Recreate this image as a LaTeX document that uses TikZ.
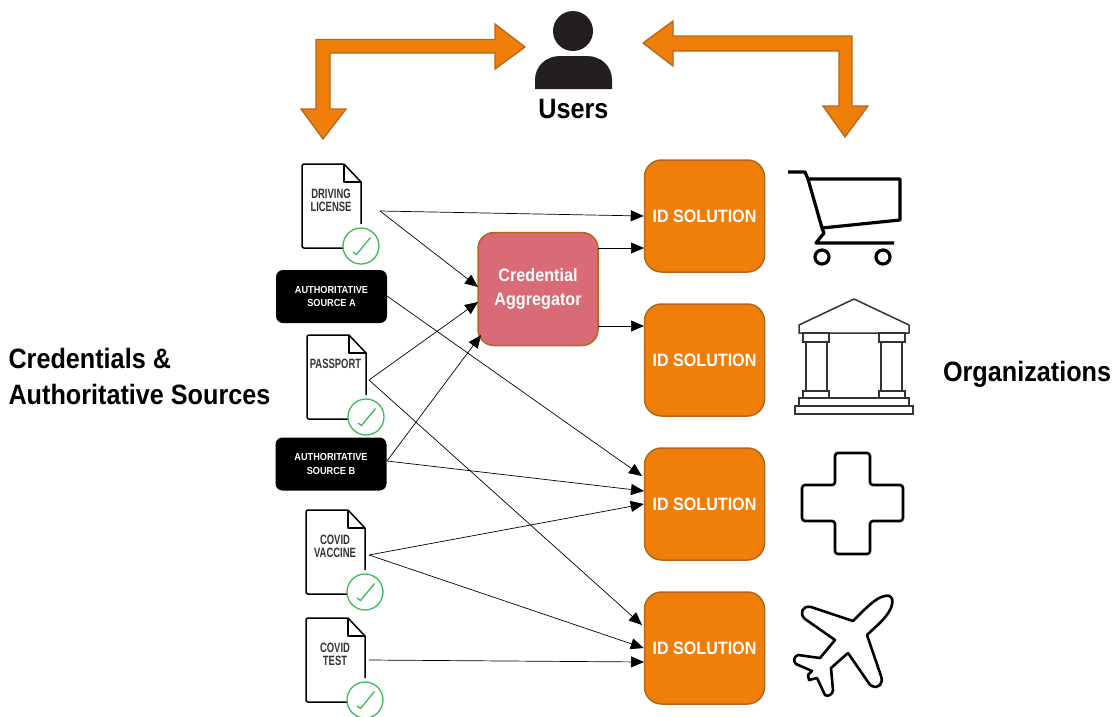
\documentclass[tikz,border=0pt]{standalone}
\usepackage{fontspec}
\setmainfont{Liberation Sans}[FakeStretch=0.9]
\newfontfamily\narrowfont{Liberation Sans}[FakeStretch=0.7]
\usetikzlibrary{arrows.meta}

\definecolor{idorange}{HTML}{F07F09}
\definecolor{idedge}{HTML}{B8651B}
\definecolor{aggfill}{HTML}{D96B77}
\definecolor{checkgreen}{HTML}{3DB85C}
\definecolor{darkuser}{HTML}{231F20}

\tikzset{
    idbox/.style={draw=idedge, fill=idorange, line width=1.5pt, rounded corners=17pt, minimum width=120pt, minimum height=112pt, text=white, font=\fontsize{17.9}{20}\selectfont\bfseries},
    aggbox/.style={draw=idedge, fill=aggfill, line width=1.5pt, rounded corners=16pt, minimum width=120pt, minimum height=113pt, text=white, align=center, font=\fontsize{18}{24}\selectfont\bfseries},
    srcbox/.style={fill=black, rounded corners=7pt, minimum width=111pt, minimum height=53pt, text=white, align=center, font=\fontsize{10.2}{13.5}\selectfont\bfseries},
    doclabel/.style={text=black!80, align=center, font=\narrowfont\fontsize{13.5}{13}\selectfont\bfseries},
    biglabel/.style={align=left, font=\fontsize{28}{36}\selectfont\bfseries},
    flow/.style={-{Triangle[length=13pt,width=11pt]}, line width=0.7pt},
    bigarrow/.style={draw=idedge, fill=idorange, line width=1.3pt},
    icon/.style={line width=3.2pt, line join=round},
    temple/.style={draw=black!80, line width=1.5pt},
    docsheet/.pic={
        \draw[line width=1.5pt, rounded corners=2pt, line join=round] (42,0) -- (0,0) -- (0,84) -- (42,84);
        \draw[line width=1.5pt, line join=round] (42,0) -- (59,18) -- (59,60);
        \draw[line width=1.5pt, line join=round] (42,0) -- (42,18) -- (59,18);
        \draw[draw=checkgreen, fill=white, line width=1.3pt] (59,82) circle (18);
        \draw[checkgreen, line width=1.3pt] (51,88) -- (54.5,90.5) -- (68.5,73.5);
    }
}

\begin{document}
\begin{tikzpicture}[x=1pt,y=-1pt]
    \useasboundingbox (0,0) rectangle (1112,716);

    % users
    \fill[darkuser] (573,31) circle (20);
    \fill[darkuser] (535,89) -- (535,80) .. controls (535,66) and (546,56) .. (560,56) -- (587,56) .. controls (601,56) and (612,66) .. (612,80) -- (612,89) -- cycle;
    \node[font=\fontsize{28}{30}\selectfont\bfseries] (users) at (573.5,108.5) {Users};

    \draw[bigarrow] (525,47) -- (495,24) -- (495,39.5) -- (316,39.5) -- (316,109) -- (301,109) -- (323,139) -- (346,109) -- (330,109) -- (330,53) -- (495,53) -- (495,69) -- cycle;
    \draw[bigarrow] (643,43) -- (673,21) -- (673,36) -- (852,36) -- (852,106) -- (868,106) -- (845,137) -- (823,106) -- (839,106) -- (839,51) -- (673,51) -- (673,66) -- cycle;

    % credentials
    \pic at (302,164) {docsheet};
    \pic at (307,335) {docsheet};
    \pic at (306,510) {docsheet};
    \pic at (306,618) {docsheet};
    \node[doclabel] (license) at (331,200) {DRIVING\\LICENSE};
    \node[doclabel] (passport) at (335.5,364) {PASSPORT};
    \node[doclabel] (vaccine) at (335,546) {COVID\\VACCINE};
    \node[doclabel] (covidtest) at (335,654.5) {COVID\\TEST};
    \node[srcbox] (srca) at (331.5,296.5) {AUTHORITATIVE\\SOURCE A};
    \node[srcbox] (srcb) at (331,464) {AUTHORITATIVE\\SOURCE B};

    \node[aggbox] (agg) at (538,289) {Credential\\Aggregator};
    \node[idbox] (idone) at (704.5,216) {ID SOLUTION};
    \node[idbox] (idtwo) at (704.5,360) {ID SOLUTION};
    \node[idbox] (idthree) at (704.5,504) {ID SOLUTION};
    \node[idbox] (idfour) at (704.5,648) {ID SOLUTION};

    \node[biglabel, anchor=west] (credlabel) at (5,376.5) {Credentials \&\\Authoritative Sources};
    \node[biglabel, anchor=west] (orglabel) at (939.5,374) {Organizations};

    % free ends
    \coordinate (licenseout) at (380,211);
    \coordinate (passportout) at (369,380);
    \coordinate (vaccineout) at (369,555);
    \coordinate (testout) at (369,660);
    \coordinate (srcaout) at (387,296);
    \coordinate (srcbout) at (387,461);
    \coordinate (agglicense) at (478,287);
    \coordinate (aggpassport) at (478,302);
    \coordinate (aggsrcb) at (481,335);
    \coordinate (aggout) at (598,248);
    \coordinate (aggouttwo) at (598,326);
    \coordinate (idoneagg) at (644,248);
    \coordinate (idtwoagg) at (644,326);
    \coordinate (idthreesrca) at (642,476);
    \coordinate (idthreesrcb) at (644,491);
    \coordinate (idfourpass) at (642,625);
    \coordinate (idfourtest) at (644,662);

    \draw[flow] (licenseout) -- (idone.west);
    \draw[flow] (licenseout) -- (agglicense);
    \draw[flow] (aggout) -- (idoneagg);
    \draw[flow] (aggouttwo) -- (idtwoagg);
    \draw[flow] (srcaout) -- (idthreesrca);
    \draw[flow] (passportout) -- (aggpassport);
    \draw[flow] (passportout) -- (idfourpass);
    \draw[flow] (srcbout) -- (aggsrcb);
    \draw[flow] (srcbout) -- (idthreesrcb);
    \draw[flow] (vaccineout) -- (idthree.west);
    \draw[flow] (vaccineout) -- (idfour.west);
    \draw[flow] (testout) -- (idfourtest);

    % cart
    \draw[icon] (788,172) -- (805,172) -- (808,179) -- (900,179) -- (900,220) -- (822,228) -- (808,179);
    \draw[icon] (822,228) -- (824,233) -- (816,243) -- (894,243);
    \draw[icon] (822,257) circle (7);
    \draw[icon] (883,257) circle (7);

    % bank
    \draw[temple, line join=round] (799,333) -- (799,325) -- (854,299) -- (909,325) -- (909,333) -- cycle;
    \draw[temple] (803,333) rectangle (829,342);
    \draw[temple] (879,333) rectangle (905,342);
    \draw[temple] (806,342) rectangle (827,391);
    \draw[temple] (881,342) rectangle (902,391);
    \draw[temple] (803,391) rectangle (829,398);
    \draw[temple] (879,391) rectangle (905,398);
    \draw[temple] (799,398) rectangle (909,406);
    \draw[temple] (795,406) rectangle (913,414);

    % cross
    \draw[line width=2.6pt, rounded corners=3pt] (835,453) -- (870,453) -- (870,485) -- (903,485) -- (903,521) -- (870,521) -- (870,554) -- (835,554) -- (835,521) -- (802,521) -- (802,485) -- (835,485) -- cycle;

    % plane
    \draw[line width=2.6pt, line join=round] (853,621) .. controls (864,610) and (876,597) .. (885,596) .. controls (892,594) and (894,600) .. (891,608) .. controls (886,619) and (875,627) .. (867,635) -- (881,676) .. controls (884,684) and (878,689) .. (872,686) .. controls (870,685) and (869,684) .. (868,682) -- (848,653) -- (831,668) -- (833,690) .. controls (833,695) and (827,697) .. (825,695) -- (817,678) -- (809,680) -- (808,675) -- (812,671) -- (796,664) .. controls (793,662) and (794,656) .. (798,655) -- (820,658) -- (835,640) -- (805,619) .. controls (799,614) and (802,605) .. (811,607) -- cycle;
\end{tikzpicture}
\end{document}
